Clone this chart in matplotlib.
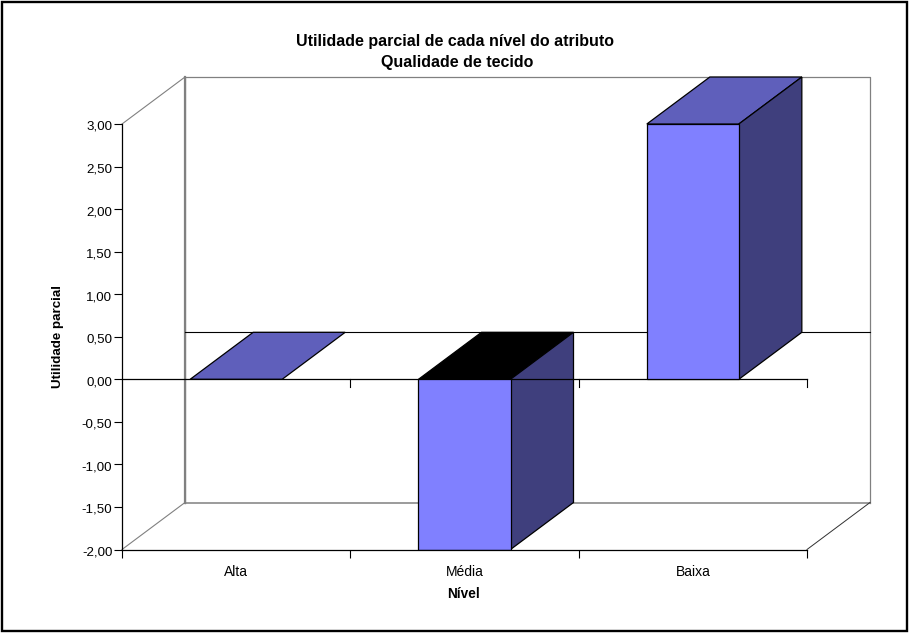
import matplotlib
matplotlib.use("Agg")
import matplotlib.pyplot as plt
from matplotlib.patches import Polygon, Rectangle
from matplotlib.transforms import ScaledTranslation

categorias = ["Alta", "Média", "Baixa"]
utilidade = [0.0, -2.0, 3.0]
y_ticks = [-2.0, -1.5, -1.0, -0.5, 0.0, 0.5, 1.0, 1.5, 2.0, 2.5, 3.0]
y_labels = ["-2,00", "-1,50", "-1,00", "-0,50", "0,00", "0,50", "1,00", "1,50", "2,00", "2,50", "3,00"]

plt.rcParams["font.family"] = ["Liberation Sans", "DejaVu Sans"]

W, H = 909, 635
fig = plt.figure(figsize=(W / 100, H / 100), dpi=100)
fig.add_artist(Rectangle((2 / W, 1 - 630.5 / H), 904.5 / W, 628.5 / H, transform=fig.transFigure,
                         fill=False, ec="black", lw=1.7))

ax = fig.add_axes([122 / W, 1 - 549.5 / H, 685 / W, 425.5 / H])
ax.set_xlim(0, 3)
ax.set_ylim(-2, 3)
ax.patch.set_alpha(0)

# depth of the fake 3d box, in data units
dx = 63 / (685 / 3)
dy = 47 / (425.5 / 5)
largura = 0.403

for s in ["top", "right"]:
    ax.spines[s].set_visible(False)
ax.spines["left"].set_linewidth(0.9)
ax.spines["bottom"].set_linewidth(0.9)
ax.spines["left"].set_zorder(6)
ax.spines["bottom"].set_zorder(6)

# back wall and floor
cinza = "#808080"
ax.plot([dx, dx, 3 + dx, 3 + dx], [-2 + dy, 3 + dy, 3 + dy, -2 + dy], color=cinza, lw=0.9, clip_on=False, zorder=1)
ax.plot([dx, dx], [-2 + dy, 3 + dy], color=cinza, lw=1.6, clip_on=False, zorder=1)
ax.plot([dx, 3 + dx], [-2 + dy, -2 + dy], color=cinza, lw=1.1, clip_on=False, zorder=1)
ax.plot([0, dx], [3, 3 + dy], color=cinza, lw=0.8, clip_on=False, zorder=1)
ax.plot([0, dx], [-2, -2 + dy], color=cinza, lw=0.8, clip_on=False, zorder=1)
ax.plot([3, 3 + dx], [-2, -2 + dy], color="#303030", lw=0.7, clip_on=False, zorder=1)
ax.plot([dx, 3 + dx], [dy, dy], color="black", lw=0.8, clip_on=False, zorder=1)

for i, v in enumerate(utilidade):
    x0 = i + 0.5 - largura / 2
    x1 = x0 + largura
    topo = max(v, 0)
    base = min(v, 0)
    cor_topo = "black" if v < 0 else "#5f5fbb"
    ax.add_patch(Polygon([(x0, topo), (x1, topo), (x1 + dx, topo + dy), (x0 + dx, topo + dy)],
                         fc=cor_topo, ec="black", lw=0.9, clip_on=False, zorder=3))
    if v != 0:
        ax.add_patch(Polygon([(x1, base), (x1 + dx, base + dy), (x1 + dx, topo + dy), (x1, topo)],
                             fc="#3f3f7d", ec="black", lw=0.9, clip_on=False, zorder=3))
        ax.bar(i + 0.5, v, width=largura, color="#8080ff", edgecolor="black", linewidth=0.9, zorder=5)

# zero line with its own ticks
ax.plot([0, 3], [0, 0], color="black", lw=0.9, zorder=4, clip_on=False)
for x in [1, 2, 3]:
    ax.plot([x, x], [0, -0.085], color="black", lw=0.8, zorder=4, clip_on=False)

ax.set_xticks([0, 1, 2, 3])
ax.set_xticklabels([])
ax.tick_params(axis="x", length=5.5, width=0.8, direction="out")
ax.set_xticks([0.5, 1.5, 2.5], labels=categorias, minor=True)
ax.tick_params(axis="x", which="minor", length=0, labelsize=10, pad=11.5)
ax.set_yticks(y_ticks, labels=y_labels)
ax.tick_params(axis="y", length=5.5, width=0.8, direction="out", labelsize=9.6, pad=1.5)

# y labels sit a little under their ticks
desce = ScaledTranslation(0, -1.5 / 100, fig.dpi_scale_trans)
for lab in ax.get_yticklabels():
    lab.set_transform(lab.get_transform() + desce)

fig.text(455.5 / W, 1 - 41.5 / H, "Utilidade parcial de cada nível do atributo", ha="center", va="center",
         fontsize=11.55, fontweight="bold")
fig.text(457 / W, 1 - 62 / H, "Qualidade de tecido", ha="center", va="center", fontsize=11.55, fontweight="bold")
fig.text(58 / W, 1 - 336.5 / H, "Utilidade parcial", rotation=90, ha="center", va="center", fontsize=9.6, fontweight="bold")
fig.text(464 / W, 1 - 594 / H, "Nível", ha="center", va="center", fontsize=9.8, fontweight="bold")

fig.savefig("out.png", dpi=100)
